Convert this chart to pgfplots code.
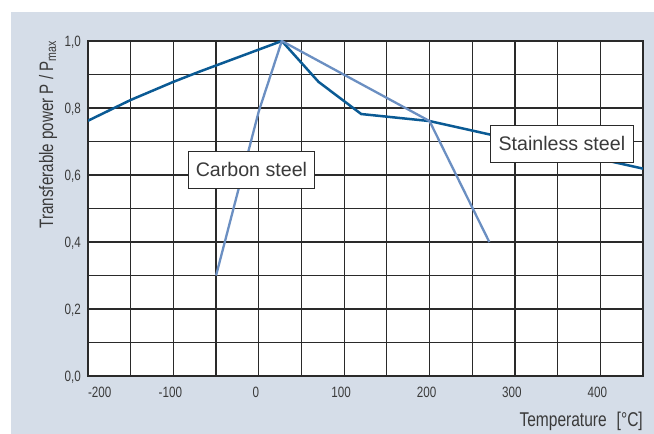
\documentclass[border=0pt]{standalone}
\usepackage{pgfplots}
\pgfplotsset{compat=1.18}
\usepackage{fontspec}
\setmainfont{Liberation Sans}
\newfontfamily\condfont[FakeStretch=0.78]{Liberation Sans}
\definecolor{panel}{HTML}{D5DDE8}
\definecolor{stain}{HTML}{0A5A94}
\definecolor{carbon}{HTML}{6B8FC2}
\definecolor{txt}{HTML}{3A3A3A}
\definecolor{gridc}{HTML}{2A2A2A}
\begin{document}
\begin{tikzpicture}
\fill[white] (-88bp,-58bp) rectangle (566bp,376bp);
\fill[panel] (-77bp,-58bp) rectangle (566bp,364bp);
\begin{axis}[
  at={(0,0)}, anchor=south west, scale only axis, width=555bp, height=335bp,
  xmin=-200, xmax=450, ymin=0, ymax=1,
  xtick={-200,-100,...,400}, minor xtick={-150,-50,...,450},
  ytick={0,0.2,0.4,0.6,0.8,1}, minor ytick={0.1,0.3,0.5,0.7,0.9},
  xticklabels={\makebox[0pt][l]{\hspace*{3bp}-200},-100,0,100,200,300,400},
  yticklabels={{0,0},{0,2},{0,4},{0,6},{0,8},{1,0}},
  grid=both,
  grid style={gridc, line width=1.3bp},
  minor grid style={gridc, line width=1.3bp},
  major grid style={gridc, line width=1.3bp},
  major tick length=0pt, minor tick length=0pt,
  axis line style={gridc, line width=1.5bp},
  axis background/.style={fill=white},
  xticklabel style={anchor=base, yshift=-21bp, xshift=-3bp, inner sep=0pt,
    font=\condfont\fontsize{15}{17}\selectfont, text=txt},
  yticklabel style={anchor=base east, xshift=-7bp, yshift=-5.5bp, inner sep=0pt,
    font=\condfont\fontsize{15}{17}\selectfont, text=txt},
  xlabel={Temperature\enspace[°C]},
  xlabel style={at={(rel axis cs:1,0)}, anchor=base east, yshift=-50bp, inner sep=0pt,
    font=\condfont\fontsize{20}{22}\selectfont, text=txt},
  ylabel={Transferable power P / P\textsubscript{max}},
  ylabel style={at={(rel axis cs:-0.063,0.721)}, anchor=base, inner sep=0pt,
    font=\condfont\fontsize{19.5}{22}\selectfont, text=txt},
]
\addplot[stain, line width=2.5bp] coordinates {
  (-200,0.762) (-150,0.824) (-100,0.878) (-70,0.908) (27,1.0)
  (70,0.878) (120,0.782) (200,0.761) (450,0.619)};
\addplot[carbon, line width=2.3bp] coordinates {
  (-50,0.30) (0,0.79) (27,1.0) (200,0.761) (270,0.40)};
\node[draw=gridc, fill=white, line width=1.1bp, minimum width=126.7bp, minimum height=36.6bp,
  inner sep=0pt, font=\fontsize{19.7}{22}\selectfont, text=txt] at (axis cs:-8.6,0.615) {Carbon steel};
\node[draw=gridc, fill=white, line width=1.1bp, minimum width=142.6bp, minimum height=36.6bp,
  inner sep=0pt, font=\fontsize{19.7}{22}\selectfont, text=txt] at (axis cs:355,0.693) {Stainless steel};
\end{axis}
\end{tikzpicture}
\end{document}
